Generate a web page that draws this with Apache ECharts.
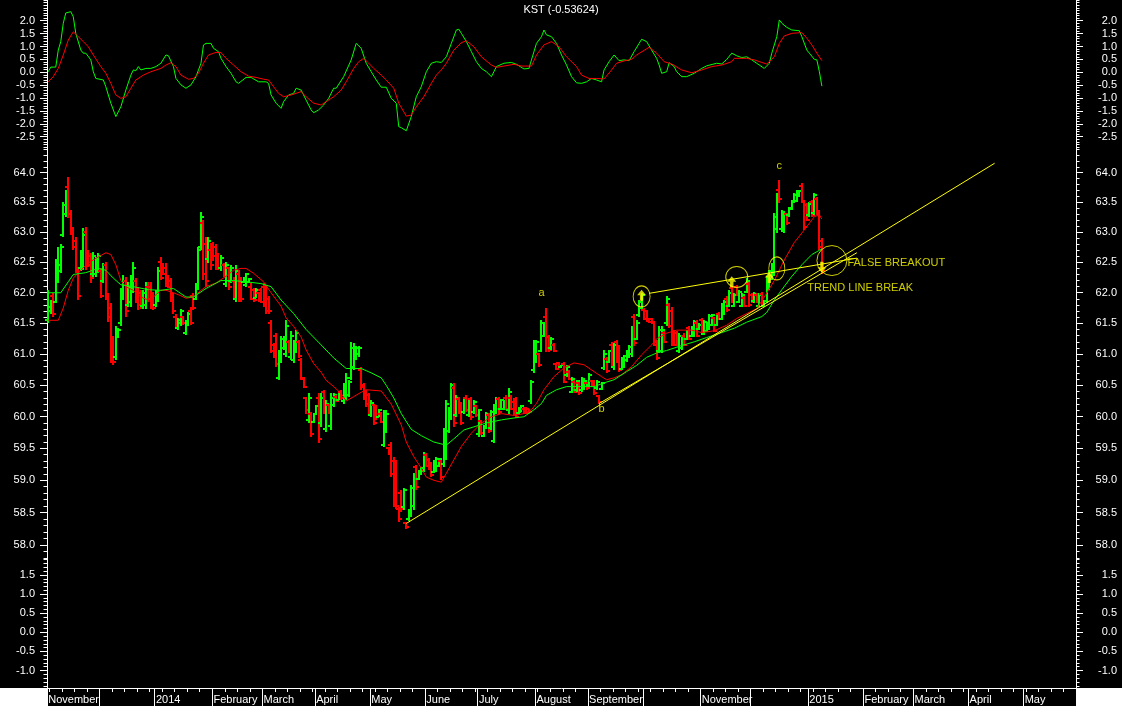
<!DOCTYPE html>
<html><head><meta charset="utf-8">
<script src="https://cdn.jsdelivr.net/npm/echarts@6/dist/echarts.min.js"></script>
<style>html,body{margin:0;padding:0;background:#000;}#c{width:1122px;height:706px;}</style>
</head><body><div id="c"></div>
<script>
const FONT = "'Liberation Sans', Arial, sans-serif";
const GREEN = '#00ff00', RED = '#ff0000', YELLOW = '#ffff00', WHITE = '#ffffff';

// ---- categories: trading days (weekdays) Nov 2013 .. May 2015 ----
const days = [];
for (let t = Date.UTC(2013, 10, 1); t <= Date.UTC(2015, 4, 29); t += 86400000) {
  const d = new Date(t); const wd = d.getUTCDay();
  if (wd !== 0 && wd !== 6) days.push(d.toISOString().slice(0, 10));
}
// month labels from Nov 2013 to May 2015 ('' = month without a label)
const monthLabels = ['November', '', '2014', 'February', 'March', 'April', 'May', 'June', 'July', 'August',
  'September', '', 'November', '', '2015', 'February', 'March', 'April', 'May'];

// ---- tick labels ----
const kstTicks = [2.0, 1.5, 1.0, 0.5, 0.0, -0.5, -1.0, -1.5, -2.0, -2.5];
const priceTicks = [58.0, 58.5, 59.0, 59.5, 60.0, 60.5, 61.0, 61.5, 62.0, 62.5, 63.0, 63.5, 64.0];
const lowTicks = [1.5, 1.0, 0.5, 0.0, -0.5, -1.0];

// ---- KST indicator [day index, value] ----
const kstLine = [[0,0.02],[1,0.2],[3,0.2],[4,0.86],[5,1.19],[6,1.9],[7,2.3],[9,2.35],[10,2.15],[11,1.51],[13,0.86],[14,0.74],[15,0.74],[17,0.48],[18,0.02],[19,-0.24],[22,-0.30],[23,-0.56],[25,-1.2],[27,-1.72],[29,-1.34],[31,-0.69],[33,-0.11],[34,0.09],[35,0.06],[36,0.22],[37,0.09],[39,0.15],[41,0.15],[43,0.22],[45,0.35],[47,0.67],[48,0.64],[50,0.22],[51,-0.24],[53,-0.49],[55,-0.62],[57,-0.49],[59,-0.17],[61,0.35],[62,1.06],[63,1.12],[65,1.12],[66,0.93],[68,0.80],[69,0.54],[71,0.22],[73,-0.04],[75,-0.37],[76,-0.43],[79,-0.20],[81,-0.20],[84,-0.37],[87,-0.37],[88,-0.43],[89,-0.88],[91,-1.20],[93,-1.40],[94,-1.14],[96,-0.88],[98,-0.82],[99,-0.62],[101,-0.69],[103,-1.08],[105,-1.46],[106,-1.57],[108,-1.46],[110,-1.27],[112,-1.01],[114,-0.62],[115,-0.62],[118,-0.17],[121,0.48],[123,1.12],[125,0.93],[127,0.35],[129,0.02],[131,-0.30],[133,-0.58],[135,-0.58],[137,-1.01],[139,-1.20],[140,-2.11],[141,-2.15],[143,-2.27],[145,-1.72],[147,-0.95],[149,-0.56],[151,0.02],[153,0.35],[155,0.41],[157,0.38],[159,0.60],[161,1.12],[163,1.64],[164,1.67],[165,1.51],[167,1.19],[169,0.80],[171,0.41],[173,0.15],[175,0.02],[177,-0.17],[178,0.02],[179,0.22],[182,0.35],[185,0.38],[187,0.31],[190,0.13],[192,0.15],[193,0.48],[195,1.12],[197,1.38],[198,1.64],[199,1.45],[201,1.38],[203,1.12],[205,0.67],[207,0.28],[209,-0.17],[211,-0.41],[213,-0.43],[215,-0.37],[217,-0.24],[219,-0.30],[221,-0.37],[222,0.09],[224,0.41],[226,0.67],[228,0.45],[230,0.48],[232,0.45],[234,0.80],[236,1.12],[237,1.28],[239,1.19],[241,0.86],[243,0.54],[244,0.28],[245,-0.04],[247,0.02],[248,0.37],[250,0.22],[251,0.02],[253,-0.17],[255,-0.17],[258,-0.04],[261,0.15],[263,0.25],[267,0.35],[269,0.32],[271,0.50],[273,0.74],[275,0.64],[277,0.57],[279,0.60],[281,0.48],[284,0.28],[286,0.15],[288,0.35],[289,0.74],[291,1.38],[292,2.03],[293,1.90],[295,1.74],[297,1.64],[300,1.61],[301,1.38],[303,0.86],[304,0.74],[306,0.50],[307,0.48],[308,0.02],[309,-0.54]];
const kstSignal = [[0,-0.37],[2,-0.17],[4,0.15],[6,0.67],[8,1.25],[10,1.57],[12,1.38],[14,1.19],[16,0.99],[18,0.67],[21,0.22],[23,-0.04],[25,-0.43],[27,-0.88],[29,-1.01],[31,-0.95],[33,-0.62],[35,-0.30],[38,-0.11],[41,0.02],[45,0.15],[47,0.28],[49,0.37],[51,0.22],[53,-0.11],[56,-0.27],[58,-0.24],[60,-0.04],[62,0.35],[64,0.67],[67,0.77],[69,0.76],[71,0.54],[74,0.28],[77,0.02],[80,-0.15],[83,-0.20],[86,-0.27],[88,-0.30],[90,-0.56],[92,-0.82],[94,-0.95],[97,-0.88],[101,-0.75],[103,-0.95],[106,-1.20],[109,-1.27],[111,-1.14],[114,-0.95],[117,-0.69],[119,-0.37],[122,0.15],[124,0.41],[126,0.54],[128,0.35],[130,0.15],[133,-0.11],[135,-0.30],[138,-0.62],[140,-1.20],[143,-1.70],[145,-1.66],[147,-1.34],[150,-0.95],[153,-0.43],[155,-0.11],[157,0.09],[159,0.35],[162,0.86],[165,1.15],[167,1.22],[170,0.99],[173,0.60],[177,0.28],[179,0.19],[182,0.24],[186,0.31],[189,0.24],[193,0.24],[195,0.67],[198,1.06],[201,1.19],[204,0.99],[207,0.60],[211,0.22],[213,-0.11],[216,-0.24],[219,-0.24],[222,-0.26],[225,0.09],[227,0.35],[230,0.44],[233,0.50],[235,0.67],[240,0.97],[243,0.74],[246,0.41],[249,0.32],[253,0.09],[257,-0.02],[261,0.09],[265,0.22],[269,0.28],[273,0.41],[274,0.54],[279,0.54],[282,0.48],[285,0.38],[287,0.32],[290,0.60],[292,1.12],[294,1.41],[297,1.51],[301,1.54],[303,1.32],[305,1.06],[307,0.74],[309,0.45]];

// ---- price bars: [open, close, low, high], one per trading day from index 0 ----
const bars = [
[61.55,61.77,61.50,62.05],[61.70,61.80,61.66,61.88],[61.95,61.65,61.61,61.99],[61.85,62.50,61.83,62.56],[62.20,62.45,62.16,62.76],
[62.35,62.75,62.32,62.81],[62.95,63.45,62.92,63.51],[63.30,63.65,63.26,63.71],[63.75,63.30,63.23,63.93],[63.30,63.00,62.95,63.37],
[63.05,62.75,62.70,63.09],[62.85,62.40,62.32,62.92],[62.35,61.95,61.88,62.43],[62.40,62.65,62.35,62.70],[62.50,62.95,62.38,63.07],
[63.00,62.45,62.38,63.09],[62.65,62.45,62.43,62.70],[62.60,62.25,62.16,62.65],[62.30,62.60,62.26,62.67],[62.30,62.50,62.26,62.59],
[62.35,62.60,62.32,62.65],[62.35,61.95,61.91,62.40],[62.20,62.45,62.16,62.49],[62.45,61.95,61.88,62.51],[61.95,61.60,61.53,61.99],
[61.75,60.95,60.86,61.83],[61.20,60.88,60.83,61.29],[60.95,61.40,60.91,61.45],[61.30,61.40,61.26,61.42],[61.50,62.00,61.45,62.07],
[61.90,62.20,61.88,62.29],[62.20,61.70,61.61,62.26],[61.80,62.10,61.77,62.18],[61.85,62.20,61.77,62.29],[62.05,62.40,61.99,62.51],
[62.20,61.90,61.83,62.24],[62.05,61.80,61.72,62.10],[62.00,61.80,61.74,62.05],[61.78,62.00,61.74,62.05],[61.80,62.10,61.74,62.18],
[62.10,61.90,61.85,62.18],[62.10,61.80,61.74,62.18],[61.95,61.75,61.72,62.02],[61.80,62.00,61.77,62.05],[61.90,62.35,61.85,62.43],
[62.50,62.25,62.21,62.59],[62.45,62.30,62.29,62.49],[62.40,62.15,62.10,62.49],[62.25,62.10,62.07,62.29],[62.20,61.90,61.85,62.24],
[61.95,61.70,61.66,61.99],[61.60,61.45,61.42,61.66],[61.42,61.55,61.39,61.58],[61.50,61.70,61.45,61.73],[61.60,61.50,61.47,61.62],
[61.35,61.50,61.31,61.55],[61.50,61.65,61.45,61.69],[61.70,61.50,61.47,61.77],[61.95,61.75,61.72,61.99],[61.90,62.10,61.88,62.16],
[62.10,62.70,62.05,62.76],[62.75,63.25,62.70,63.34],[63.15,62.30,62.21,63.20],[62.80,62.20,62.10,62.92],[62.55,62.85,62.49,62.92],
[62.70,62.45,62.38,62.78],[62.80,62.60,62.53,62.84],[62.75,62.45,62.38,62.81],[62.60,62.40,62.38,62.65],[62.40,62.58,62.35,62.62],
[62.45,62.30,62.26,62.49],[62.15,62.45,62.10,62.51],[62.40,62.10,62.05,62.43],[62.20,62.40,62.16,62.46],[62.20,61.95,61.91,62.26],
[61.90,62.35,61.85,62.46],[62.30,61.90,61.85,62.38],[62.20,61.90,61.85,62.26],[62.17,62.24,62.16,62.26],[62.12,62.30,62.10,62.32],
[62.17,62.22,62.16,62.24],[62.10,61.90,61.88,62.16],[62.05,61.88,61.85,62.07],[61.92,62.05,61.91,62.07],[62.00,61.88,61.85,62.02],
[62.05,61.85,61.83,62.07],[62.10,61.80,61.77,62.16],[62.05,61.70,61.66,62.13],[61.90,61.70,61.66,61.94],[61.50,61.05,61.02,61.55],
[61.15,60.97,60.94,61.18],[61.30,60.85,60.80,61.34],[60.62,61.00,60.59,61.07],[60.90,61.25,60.86,61.29],[61.10,61.25,61.07,61.29],
[61.00,61.45,60.96,61.55],[61.20,61.05,61.02,61.23],[60.95,61.30,60.91,61.37],[60.90,61.20,60.86,61.23],[61.05,61.35,61.02,61.39],
[61.20,60.97,60.94,61.23],[60.90,60.62,60.59,60.94],[60.60,60.48,60.45,60.64],[60.30,60.10,60.05,60.32],[59.95,60.30,59.90,60.38],
[60.05,59.72,59.68,60.08],[59.92,60.04,59.90,60.06],[60.05,60.17,60.03,60.19],[60.30,59.65,59.58,60.38],[59.90,60.30,59.84,60.38],
[60.40,60.10,60.05,60.43],[59.80,60.20,59.76,60.26],[60.18,60.08,60.05,60.21],[59.85,60.30,59.79,60.38],[60.18,60.35,60.15,60.38],
[60.32,60.25,60.23,60.34],[60.27,60.35,60.26,60.38],[60.40,60.30,60.26,60.43],[60.25,60.50,60.21,60.54],[60.30,60.62,60.26,60.70],
[60.35,60.55,60.31,60.59],[60.62,61.10,60.59,61.20],[60.80,61.10,60.75,61.18],[60.95,61.10,60.91,61.13],[61.00,61.10,60.96,61.13],
[60.75,60.48,60.43,60.80],[60.50,60.30,60.26,60.53],[60.40,60.20,60.15,60.43],[60.35,60.10,60.05,60.38],[60.02,60.22,59.99,60.26],
[60.18,59.90,59.87,60.21],[60.15,60.00,59.95,60.18],[60.00,60.10,59.99,60.13],[60.05,59.92,59.90,60.08],[59.55,60.05,59.52,60.11],
[59.80,60.05,59.74,60.11],[59.50,59.42,59.40,59.52],[59.55,59.10,59.05,59.60],[59.30,58.62,58.58,59.36],[59.20,58.60,58.56,59.32],
[58.55,58.40,58.35,58.58],[58.80,58.55,58.50,58.85],[58.58,58.85,58.54,58.88],[58.34,58.27,58.25,58.35],[58.40,58.52,58.37,58.56],
[58.46,58.88,58.43,58.93],[58.60,59.05,58.54,59.11],[59.20,58.90,58.85,59.24],[59.02,59.14,59.00,59.16],[59.10,59.19,59.08,59.21],
[59.15,59.40,59.13,59.45],[59.40,59.23,59.21,59.43],[59.32,59.18,59.16,59.35],[59.27,59.08,59.05,59.29],[59.13,59.30,59.11,59.32],
[59.15,59.34,59.13,59.36],[59.22,59.33,59.21,59.35],[59.30,59.05,59.00,59.32],[59.25,59.75,59.21,59.82],[59.40,60.20,59.32,60.26],
[59.78,60.10,59.74,60.15],[60.00,60.50,59.95,60.54],[60.45,59.90,59.84,60.54],[60.02,60.30,60.00,60.35],[60.28,60.08,60.05,60.31],
[60.20,59.90,59.87,60.23],[60.07,60.28,60.05,60.31],[60.30,60.10,60.07,60.34],[60.02,60.24,60.00,60.26],[60.28,60.00,59.95,60.31],
[60.07,60.24,60.05,60.26],[60.17,60.02,60.00,60.19],[59.72,60.10,59.68,60.13],[59.93,59.74,59.71,59.95],[59.70,59.82,59.68,59.84],
[59.86,60.05,59.84,60.08],[60.03,59.77,59.74,60.06],[59.82,60.08,59.79,60.11],[59.62,60.15,59.58,60.21],[60.08,60.28,60.05,60.31],
[60.28,60.08,60.05,60.31],[60.12,60.27,60.10,60.29],[60.12,60.24,60.10,60.26],[60.30,60.13,60.10,60.34],[60.10,60.40,60.05,60.45],
[60.30,60.13,60.10,60.34],[60.24,60.05,60.02,60.26],[60.28,60.00,59.98,60.31],[60.06,60.13,60.05,60.15],[60.08,60.17,60.07,60.19],
[60.12,60.06,60.05,60.13],[60.14,60.06,60.05,60.15],[60.12,60.07,60.05,60.13],[60.25,60.55,60.21,60.59],[60.75,61.15,60.70,61.23],
[60.90,61.20,60.86,61.23],[61.00,60.82,60.80,61.02],[61.05,61.50,61.03,61.55],[61.30,61.48,61.28,61.52],[61.60,61.10,61.03,61.75],
[61.28,61.07,61.03,61.31],[61.10,61.25,61.07,61.28],[61.15,61.05,61.03,61.18],[60.84,60.77,60.75,60.86],[60.86,60.80,60.78,60.87],
[60.79,60.82,60.78,60.83],[60.85,60.56,60.54,60.87],[60.66,60.80,60.64,60.83],[60.72,60.60,60.59,60.75],[60.40,60.60,60.38,60.64],
[60.55,60.40,60.38,60.59],[60.42,60.57,60.40,60.59],[60.54,60.37,60.35,60.56],[60.42,60.60,60.40,60.64],[60.45,60.57,60.43,60.59],
[60.54,60.45,60.43,60.56],[60.50,60.67,60.48,60.70],[60.57,60.50,60.48,60.59],[60.56,60.37,60.35,60.59],[60.45,60.56,60.43,60.59],
[60.33,60.23,60.21,60.35],[60.44,60.54,60.43,60.56],[60.78,61.00,60.75,61.07],[60.93,60.73,60.70,60.96],[60.88,61.05,60.86,61.07],
[61.15,60.85,60.80,61.20],[60.80,61.15,60.75,61.18],[61.20,60.90,60.86,61.23],[61.10,60.75,60.72,61.15],[60.77,60.94,60.75,60.96],
[60.80,60.97,60.78,60.99],[60.90,61.05,60.88,61.07],[60.96,61.12,60.94,61.15],[61.00,61.40,60.96,61.45],[61.60,61.18,61.13,61.66],
[61.25,61.50,61.23,61.55],[61.63,61.85,61.61,61.88],[61.75,61.97,61.72,61.99],[61.72,61.57,61.55,61.75],[61.70,61.55,61.52,61.72],
[61.57,61.52,61.50,61.58],[61.57,61.53,61.52,61.58],[61.50,61.15,61.13,61.52],[61.20,60.94,60.91,61.23],[61.05,61.40,61.02,61.45],
[61.05,61.40,61.02,61.45],[61.35,61.20,61.18,61.37],[61.50,61.90,61.45,61.94],[61.80,61.45,61.42,61.83],[61.70,61.15,61.13,61.77],
[61.35,61.15,61.13,61.39],[61.35,61.15,61.13,61.37],[61.05,61.30,61.02,61.34],[61.10,61.25,61.07,61.28],[61.30,61.15,61.13,61.34],
[61.25,61.37,61.23,61.39],[61.42,61.25,61.23,61.45],[61.30,61.42,61.28,61.45],[61.30,61.52,61.28,61.55],[61.50,61.30,61.28,61.55],
[61.41,61.48,61.39,61.50],[61.55,61.36,61.34,61.58],[61.33,61.52,61.31,61.55],[61.38,61.50,61.36,61.52],[61.41,61.62,61.39,61.66],
[61.47,61.63,61.45,61.66],[61.58,61.38,61.36,61.60],[61.47,61.64,61.45,61.66],[61.66,61.57,61.55,61.68],[61.57,61.80,61.55,61.84],
[61.65,61.85,61.63,61.88],[61.90,61.72,61.69,61.94],[61.79,62.00,61.77,62.05],[62.07,61.86,61.83,62.10],[61.79,61.96,61.77,61.99],
[62.10,61.96,61.94,62.13],[61.85,62.02,61.83,62.05],[61.79,61.96,61.77,61.99],[61.92,61.79,61.77,61.94],[62.01,62.20,61.99,62.24],
[62.15,61.80,61.77,62.18],[61.97,61.85,61.83,61.99],[61.86,61.98,61.84,62.01],[61.97,61.86,61.84,61.99],[61.79,61.96,61.77,61.99],
[61.98,61.80,61.77,62.01],[61.78,61.86,61.77,61.88],[61.86,62.22,61.83,62.27],[62.07,62.35,62.05,62.38],[62.23,62.46,62.21,62.49],
[62.30,63.25,62.27,63.32],[63.05,63.60,62.99,63.66],[63.70,63.55,63.49,63.88],[63.05,63.33,63.03,63.37],[63.02,63.30,62.99,63.34],
[63.30,63.15,63.12,63.32],[63.28,63.40,63.26,63.42],[63.39,63.51,63.37,63.54],[63.51,63.63,63.49,63.66],[63.53,63.68,63.51,63.71],
[63.60,63.69,63.59,63.71],[63.78,63.52,63.49,63.82],[63.50,63.08,63.04,63.54],[63.45,63.20,63.18,63.49],[63.28,63.48,63.26,63.51],
[63.50,63.28,63.26,63.54],[63.32,63.62,63.29,63.66],[63.55,63.35,63.32,63.59],[63.30,62.75,62.70,63.34],[62.85,62.35,62.30,62.90]
];

// ---- moving averages [day index, price] ----
const maFast = [[0,61.55],[4,61.55],[6,61.75],[8,62.04],[10,62.24],[13,62.37],[16,62.49],[20,62.59],[23,62.66],[25,62.63],[27,62.46],[29,62.2],[31,62.1],[34,62.04],[37,61.93],[40,61.88],[42,61.93],[45,62.04],[47,62.04],[50,62.0],[53,61.95],[55,61.91],[58,61.93],[61,62.04],[63,62.1],[67,62.16],[71,62.27],[74,62.37],[77,62.4],[79,62.4],[82,62.32],[86,62.18],[89,62.0],[93,61.78],[95,61.59],[98,61.45],[101,61.28],[103,61.07],[106,60.85],[109,60.71],[111,60.58],[114,60.48],[117,60.37],[119,60.25],[122,60.32],[125,60.39],[127,60.43],[133,60.41],[137,60.2],[141,59.87],[143,59.6],[146,59.37],[149,59.19],[151,59.05],[154,59.0],[157,58.97],[159,59.11],[162,59.32],[165,59.53],[169,59.74],[173,59.9],[177,60.0],[181,60.05],[186,60.02],[190,60.05],[193,60.11],[195,60.21],[198,60.43],[202,60.64],[206,60.78],[210,60.86],[214,60.83],[218,60.72],[221,60.64],[223,60.59],[226,60.62],[229,60.67],[233,60.8],[237,60.99],[241,61.15],[243,61.25],[247,61.34],[251,61.39],[257,61.39],[261,61.35],[266,61.38],[271,61.47],[275,61.58],[279,61.66],[283,61.74],[286,61.93],[290,62.2],[294,62.54],[298,62.83],[302,63.04],[306,63.26],[308,63.29],[309,63.22]];
const maSlow = [[0,62.0],[5,62.0],[8,62.18],[10,62.3],[15,62.33],[20,62.4],[23,62.37],[26,62.24],[29,62.13],[34,62.1],[40,62.05],[45,62.04],[50,62.07],[55,61.93],[58,61.93],[63,62.07],[69,62.2],[74,62.2],[79,62.18],[85,62.15],[89,62.1],[93,61.88],[98,61.66],[103,61.4],[109,61.15],[114,60.94],[119,60.77],[125,60.77],[129,60.7],[133,60.62],[135,60.5],[138,60.3],[141,60.05],[145,59.8],[149,59.7],[154,59.6],[159,59.55],[162,59.65],[166,59.79],[170,59.84],[175,59.9],[181,59.95],[186,59.98],[190,60.0],[194,60.11],[197,60.21],[199,60.34],[203,60.43],[207,60.48],[213,60.48],[218,60.48],[222,60.54],[226,60.59],[231,60.72],[235,60.82],[239,60.95],[243,61.02],[247,61.06],[253,61.14],[258,61.2],[263,61.27],[269,61.35],[274,61.42],[279,61.52],[285,61.61],[287,61.68],[290,61.88],[293,62.05],[297,62.27],[301,62.46],[305,62.63],[308,62.7],[309,62.72]];

// ---- annotations [day index, price] ----
const trendLong = [[143, 58.33], [378, 64.16]];
const trendShort = [[220, 60.21], [323, 62.66]];
const resistance = [[240, 61.99], [323, 62.57]];
const circlePts = [[237, 61.94], [275, 62.26], [291, 62.40], [313, 62.53]];
const arrowsUp = [[237, 61.96], [273, 62.18], [288, 62.25]];
const arrowsDown = [[309, 62.42]];
const waveLabels = [{name: 'a', value: [197, 62.0]}, {name: 'b', value: [221, 60.13]}, {name: 'c', value: [292, 64.12]}];
const noteLabels = [{name: 'FALSE BREAKOUT', value: [319, 62.49]}, {name: 'TREND LINE BREAK', value: [303, 62.08]}];

// ---------------- chart ----------------
const ym = s => (+s.slice(0, 4) - 2013) * 12 + (+s.slice(5, 7)) - 11;
const isMonthStart = i => i === 0 || days[i].slice(0, 7) !== days[i - 1].slice(0, 7);
const isMonday = (i, v) => new Date(v + 'T00:00:00Z').getUTCDay() === 1;
const minorOf = (a, b) => { const r = []; for (let k = Math.round(a * 10); k <= Math.round(b * 10); k++) r.push(k / 10); return r; };

function yAxes(grid, type, min, max, major, side) {
  const minor = minorOf(Math.ceil(min * 10) / 10, Math.floor(max * 10) / 10);
  const base = {type, gridIndex: grid, position: side, min, max, splitLine: {show: false}, minorTick: {show: false}};
  if (type === 'log') base.logBase = 10;
  return [
    Object.assign({}, base, {
      axisLine: {show: true, onZero: false, lineStyle: {color: WHITE, width: 1}},
      axisTick: {show: true, customValues: major, length: 7, lineStyle: {color: WHITE}},
      axisLabel: {show: true, customValues: major, formatter: v => Number(v).toFixed(1), color: WHITE,
        fontSize: 11, fontFamily: FONT, margin: side === 'left' ? 12 : 41, align: 'right'}
    }),
    Object.assign({}, base, {
      axisLine: {show: false, onZero: false},
      axisTick: {show: true, customValues: minor, length: 3.5, lineStyle: {color: WHITE}},
      axisLabel: {show: false}
    })
  ];
}

const yAxis = [].concat(
  yAxes(0, 'value', -2.938, 2.803, kstTicks, 'left'), yAxes(0, 'value', -2.938, 2.803, kstTicks, 'right'),
  yAxes(1, 'log', 57.80, 64.419, priceTicks, 'left'), yAxes(1, 'log', 57.80, 64.419, priceTicks, 'right'),
  yAxes(2, 'value', -1.457, 1.944, lowTicks, 'left'), yAxes(2, 'value', -1.457, 1.944, lowTicks, 'right')
);

const xBase = {type: 'category', data: days, boundaryGap: true, position: 'bottom', splitLine: {show: false}};
const xAxis = [
  Object.assign({}, xBase, {gridIndex: 0, show: false}),
  Object.assign({}, xBase, {gridIndex: 1, show: false}),
  Object.assign({}, xBase, {gridIndex: 2, axisLine: {show: true, onZero: false, lineStyle: {color: WHITE, width: 1}},
    axisTick: {show: true, interval: isMonday, length: 4, lineStyle: {color: WHITE}}, axisLabel: {show: false}}),
  Object.assign({}, xBase, {gridIndex: 2, axisLine: {show: false, onZero: false},
    axisTick: {show: true, interval: i => isMonthStart(i), length: 18, lineStyle: {color: WHITE}},
    axisLabel: {show: true, interval: i => isMonthStart(i), formatter: v => monthLabels[ym(v)] || '',
      color: WHITE, fontSize: 11, fontFamily: FONT, align: 'left', margin: 6}})
];

function renderOHLC(params, api) {
  const i = api.value(0);
  const o = api.coord([i, api.value(1)]), c = api.coord([i, api.value(2)]);
  const l = api.coord([i, api.value(3)]), h = api.coord([i, api.value(4)]);
  const x = Math.round(h[0]);
  const color = api.value(2) >= api.value(1) ? GREEN : RED;
  const top = Math.round(h[1]), bot = Math.round(l[1]);
  return {type: 'group', children: [
    {type: 'rect', shape: {x: x - 1, y: top, width: 2, height: Math.max(2, bot - top)}, style: {fill: color}},
    {type: 'rect', shape: {x: x - 3, y: Math.round(o[1]) - 1, width: 3, height: 2}, style: {fill: color}},
    {type: 'rect', shape: {x: x, y: Math.round(c[1]) - 1, width: 3, height: 2}, style: {fill: color}}
  ]};
}

const lineS = (data, color, xi, yi) => ({type: 'line', xAxisIndex: xi, yAxisIndex: yi, data, showSymbol: false,
  symbol: 'none', lineStyle: {color, width: 1}, z: 5, silent: true});

const arrowPath = 'path://M4,0L8,5L5.5,5L5.5,10L2.5,10L2.5,5L0,5Z';
const circleSizes = [[17, 21], [22, 21], [16, 23], [30, 30]];

const option = {
  animation: false,
  backgroundColor: '#000000',
  title: {text: 'KST (-0.53624)', left: 'center', top: 4, padding: 0,
    textStyle: {color: WHITE, fontSize: 11, fontWeight: 'normal', fontFamily: FONT}},
  grid: [
    {left: 47, right: 46, top: 0, height: 148, outerBoundsMode: 'none'},
    {left: 47, right: 46, top: 148, height: 410, outerBoundsMode: 'none'},
    {left: 47, right: 46, top: 558, height: 130, outerBoundsMode: 'none'}
  ],
  xAxis, yAxis,
  graphic: [
    {type: 'rect', shape: {x: 0, y: 688, width: 47, height: 18}, style: {fill: WHITE}, z: 100},
    {type: 'rect', shape: {x: 1077, y: 688, width: 45, height: 18}, style: {fill: WHITE}, z: 100}
  ],
  series: [
    lineS(kstLine, GREEN, 0, 0),
    lineS(kstSignal, RED, 0, 0),
    {type: 'custom', xAxisIndex: 1, yAxisIndex: 4, renderItem: renderOHLC,
      encode: {x: 0, y: [1, 2, 3, 4]}, data: bars.map((b, i) => [i].concat(b)), z: 3, silent: true},
    lineS(maFast, RED, 1, 4),
    lineS(maSlow, GREEN, 1, 4),
    Object.assign(lineS(trendLong, YELLOW, 1, 4), {z: 8}),
    Object.assign(lineS(trendShort, YELLOW, 1, 4), {z: 8}),
    Object.assign(lineS(resistance, YELLOW, 1, 4), {z: 8}),
    {type: 'scatter', xAxisIndex: 1, yAxisIndex: 4, z: 9, silent: true,
      data: circlePts.map((p, k) => ({value: p, symbolSize: circleSizes[k]})), symbol: 'circle',
      itemStyle: {color: 'rgba(0,0,0,0)', borderColor: YELLOW, borderWidth: 1}},
    {type: 'scatter', xAxisIndex: 1, yAxisIndex: 4, z: 9, silent: true, data: arrowsUp,
      symbol: arrowPath, symbolSize: [9, 11], itemStyle: {color: YELLOW}},
    {type: 'scatter', xAxisIndex: 1, yAxisIndex: 4, z: 9, silent: true, data: arrowsDown,
      symbol: arrowPath, symbolSize: [9, 11], symbolRotate: 180, itemStyle: {color: YELLOW}},
    {type: 'scatter', xAxisIndex: 1, yAxisIndex: 4, z: 10, silent: true, data: waveLabels,
      symbolSize: 1, itemStyle: {color: 'rgba(0,0,0,0)'},
      label: {show: true, formatter: '{b}', position: 'inside', color: YELLOW, fontSize: 11, fontFamily: FONT}},
    {type: 'scatter', xAxisIndex: 1, yAxisIndex: 4, z: 10, silent: true, data: noteLabels,
      symbolSize: 1, itemStyle: {color: 'rgba(0,0,0,0)'},
      label: {show: true, formatter: '{b}', position: 'right', distance: 0, color: YELLOW, fontSize: 11, fontFamily: FONT}}
  ]
};

const chart = echarts.init(document.getElementById('c'), null, {renderer: 'canvas'});
chart.setOption(option);
</script>
</body></html>
